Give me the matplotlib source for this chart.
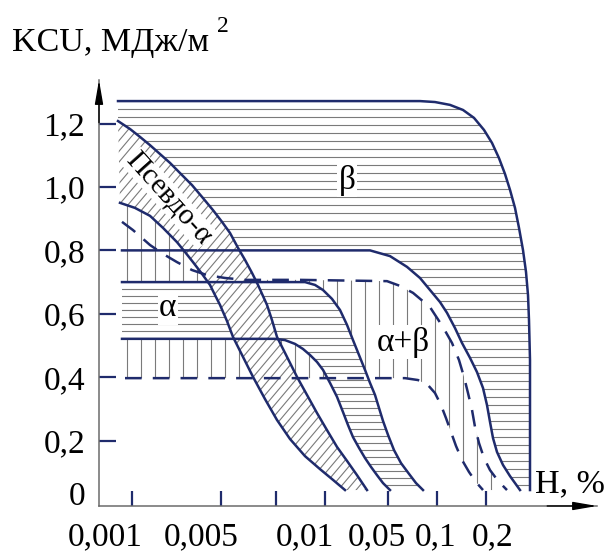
import matplotlib
matplotlib.use("Agg")
import matplotlib.pyplot as plt
import numpy as np
from matplotlib.collections import LineCollection
from matplotlib.patches import Polygon

NAVY = "#1f2b6c"
HATCH_GREY = "#7a7a7a"
AXIS_GREY = "#6b6b6b"
FONT = "Liberation Serif"

# H axis is schematic: x is a position along the axis, not the % value
X_TICKS = [0.33, 1.22, 1.77, 2.26, 2.89, 3.38, 3.87]
X_LABELS = ["0,001", "0,005", "0,01", "0,05", "0,1", "0,2"]
X_LABEL_POS = [0.06, 1.02, 2.06, 2.78, 3.37, 3.94]
Y_TICKS = [0.2, 0.4, 0.6, 0.8, 1.0, 1.2]
Y_LABELS = ["0,2", "0,4", "0,6", "0,8", "1,0", "1,2"]
Y_ZERO = 0.035
END = 0.044  # KCU level where all curves stop

# beta boundary (outer solid curve)
beta_x = [0.19, 3.21, 3.36, 3.51, 3.64, 3.75, 3.85, 3.93, 4.00, 4.06, 4.11, 4.16, 4.20, 4.24, 4.27,
          4.29, 4.30, 4.31, 4.31]
beta_y = [1.271, 1.271, 1.268, 1.259, 1.243, 1.218, 1.180, 1.139, 1.091, 1.041, 0.991, 0.934, 0.871,
          0.801, 0.732, 0.659, 0.580, 0.454, END]

# solid curve starting at 0.8
c08_x = [0.23, 2.71, 2.91, 3.08, 3.21, 3.31, 3.41, 3.48, 3.56, 3.63, 3.71, 3.78, 3.84, 3.88, 3.91,
         3.94, 3.98, 4.04, 4.11, 4.21]
c08_y = [0.80, 0.80, 0.782, 0.748, 0.713, 0.675, 0.637, 0.603, 0.555, 0.508, 0.461, 0.416, 0.366,
         0.312, 0.259, 0.208, 0.164, 0.123, 0.088, END]

# upper dashed curve (alpha+beta)
d1_x = [0.23, 0.34, 0.51, 0.64, 0.78, 0.93, 1.08, 1.26, 1.46, 2.01, 2.88, 3.01, 3.14, 3.31, 3.44,
        3.53, 3.60, 3.65, 3.69, 3.73, 3.76, 3.80, 3.85, 3.91, 3.99, 4.08]
d1_y = [0.890, 0.864, 0.817, 0.789, 0.763, 0.738, 0.722, 0.713, 0.707, 0.707, 0.703, 0.688, 0.666,
        0.621, 0.558, 0.508, 0.454, 0.401, 0.350, 0.297, 0.243, 0.192, 0.145, 0.107, 0.073, END]

# lower dashed curve (0.4)
d2_x = [0.26, 3.06, 3.19, 3.29, 3.36, 3.42, 3.47, 3.52, 3.57, 3.63, 3.70, 3.77, 3.84]
d2_y = [0.397, 0.397, 0.391, 0.375, 0.350, 0.312, 0.271, 0.227, 0.183, 0.139, 0.101, 0.069, END]

# pseudo-alpha band, upper and lower edges
p1_x = [0.19, 0.31, 0.41, 0.51, 0.61, 0.71, 0.81, 0.93, 1.04, 1.14, 1.23, 1.31, 1.39, 1.46, 1.53,
        1.59, 1.64, 1.68, 1.73, 1.78, 1.88, 1.98, 2.08, 2.18, 2.28, 2.38, 2.48, 2.58, 2.68]
p1_y = [1.208, 1.183, 1.158, 1.132, 1.104, 1.076, 1.044, 1.006, 0.965, 0.927, 0.890, 0.855, 0.808,
        0.770, 0.729, 0.691, 0.656, 0.628, 0.580, 0.527, 0.464, 0.401, 0.344, 0.287, 0.233, 0.180,
        0.136, 0.091, END]
p2_x = [0.21, 0.36, 0.51, 0.64, 0.78, 0.86, 0.94, 1.03, 1.11, 1.16, 1.21, 1.28, 1.34, 1.44, 1.54,
        1.66, 1.78, 1.91, 2.06, 2.21, 2.34, 2.46]
p2_y = [0.950, 0.934, 0.909, 0.871, 0.826, 0.795, 0.763, 0.726, 0.691, 0.659, 0.628, 0.577, 0.527,
        0.464, 0.401, 0.331, 0.265, 0.205, 0.151, 0.110, 0.076, END]

# alpha region, upper (0.7) and lower (0.52) edges
au_x = [0.23, 2.06, 2.16, 2.24, 2.33, 2.41, 2.48, 2.54, 2.60, 2.66, 2.71, 2.76, 2.80, 2.84, 2.89,
        2.95, 3.02, 3.10, 3.17, 3.24]
au_y = [0.700, 0.700, 0.691, 0.675, 0.647, 0.612, 0.565, 0.517, 0.470, 0.423, 0.382, 0.344, 0.303,
        0.262, 0.218, 0.170, 0.129, 0.095, 0.066, END]
al_x = [0.23, 1.76, 1.86, 1.96, 2.04, 2.11, 2.18, 2.24, 2.31, 2.38, 2.44, 2.49, 2.54, 2.60, 2.66,
        2.72, 2.78, 2.84, 2.91]
al_y = [0.521, 0.521, 0.517, 0.505, 0.489, 0.470, 0.448, 0.423, 0.382, 0.338, 0.290, 0.249, 0.211,
        0.177, 0.145, 0.117, 0.091, 0.066, END]

P2_D1_CROSS = 1.05


def pts(xs, ys):
    return list(zip(xs, ys))


def add_white(ax, verts, z):
    ax.add_patch(Polygon(verts, closed=True, facecolor="white", edgecolor="none", zorder=z))


def add_hatch(ax, segments, verts, z):
    clip = Polygon(verts, closed=True, facecolor="none", edgecolor="none")
    ax.add_patch(clip)
    lc = LineCollection(segments, colors=HATCH_GREY, linewidths=0.8, zorder=z)
    ax.add_collection(lc)
    lc.set_clip_path(clip)


def horizontal(top, step):
    return [[(0, y), (5, y)] for y in np.arange(top, 0.0, -step)]


def main():
    plt.rcParams["font.family"] = [FONT, "DejaVu Serif"]
    plt.rcParams["lines.scale_dashes"] = False

    fig = plt.figure(figsize=(6.13, 5.51), dpi=100)
    ax = fig.add_axes([0.1615, 0.0817, 0.8124, 0.7731])
    ax.set_xlim(0, 4.98)
    ax.set_ylim(-0.0063, 1.3375)

    beta = pts(beta_x, beta_y)
    c08 = pts(c08_x, c08_y)
    d1 = pts(d1_x, d1_y)
    d2 = pts(d2_x, d2_y)
    p1 = pts(p1_x, p1_y)
    p2 = pts(p2_x, p2_y)
    au = pts(au_x, au_y)
    al = pts(al_x, al_y)

    # beta: horizontal hatch under the outer curve, then blank out what lies below
    add_hatch(ax, horizontal(1.271 - 0.0252, 0.0252), beta + [(0.19, END)], 1)
    add_white(ax, c08 + [(0.19, END), (0.19, 0.80)], 2)
    add_white(ax, p1 + [(0.19, END)], 2)

    # alpha+beta: vertical hatch between the dashed curves
    upper = [p for p in p2 if p[0] <= P2_D1_CROSS] + [p for p in d1 if p[0] > P2_D1_CROSS]
    ab_poly = [(0.19, 0.95)] + upper + d2[::-1] + [(0.19, 0.397)]
    vert = [[(x, 0), (x, 1.3)] for x in np.arange(0.28, 4.3, 0.14)]
    add_hatch(ax, vert, ab_poly, 3)

    # alpha: horizontal hatch
    alpha_poly = au + al[::-1]
    add_white(ax, alpha_poly, 4)
    add_hatch(ax, horizontal(0.70 - 0.0221, 0.0221), alpha_poly, 5)

    # pseudo-alpha: diagonal hatch
    band_poly = p1 + p2[::-1]
    add_white(ax, band_poly, 6)
    diag = [[(c, -0.2), (c + 4.0, -0.2 + 1.5)] for c in np.arange(-4.2, 3.0, 0.09)]
    add_hatch(ax, diag, band_poly, 7)

    for xs, ys in [(beta_x, beta_y), (c08_x, c08_y), (p1_x, p1_y), (p2_x, p2_y),
                   (au_x, au_y), (al_x, al_y)]:
        ax.plot(xs, ys, color=NAVY, lw=1.8, zorder=10, solid_joinstyle="round")
    for xs, ys in [(d1_x, d1_y), (d2_x, d2_y)]:
        ax.plot(xs, ys, color=NAVY, lw=1.8, zorder=10, dashes=(12, 8))

    # axes
    for side in ("top", "right"):
        ax.spines[side].set_visible(False)
    for side in ("left", "bottom"):
        ax.spines[side].set_color(AXIS_GREY)
        ax.spines[side].set_linewidth(1.1)
    ax.set_xticks(X_TICKS)
    ax.set_xticklabels([])
    ax.tick_params(axis="x", direction="in", length=10.8, width=1.6, color=NAVY)
    ax.set_yticks([Y_ZERO] + Y_TICKS)
    ax.set_yticklabels(["0"] + Y_LABELS)
    ax.tick_params(axis="y", direction="in", length=12.2, width=1.6, color=NAVY, pad=10,
                   labelsize=24)
    ax.yaxis.get_major_ticks()[0].tick1line.set_visible(False)
    for lx, lab in zip(X_LABEL_POS, X_LABELS):
        ax.text(lx, -0.104, lab, ha="center", va="center", fontsize=24, clip_on=False)

    arrow = dict(arrowstyle="-|>,head_length=1.45,head_width=0.25", color="black", lw=1.0,
                 shrinkA=0, shrinkB=0)
    ax.annotate("", xy=(0, 1), xytext=(0, 0.9), xycoords="axes fraction", arrowprops=arrow,
                annotation_clip=False)
    ax.annotate("", xy=(1, 0), xytext=(0.9, 0), xycoords="axes fraction", arrowprops=arrow,
                annotation_clip=False)

    fig.text(12 / 613, 1 - 43 / 551, "KCU, МДж/м", fontsize=24.5, ha="left", va="center")
    fig.text(217 / 613, 1 - 27 / 551, "2", fontsize=17, ha="left", va="center")
    ax.text(4.36, 0.063, "H, %", fontsize=24.5, ha="left", va="center", clip_on=False)

    box = dict(facecolor="white", edgecolor="none", pad=1.0)
    ax.text(2.48, 1.022, "β", fontsize=24, ha="center", va="center", bbox=box, zorder=12)
    ax.text(0.69, 0.618, "α", fontsize=24, ha="center", va="center", bbox=box, zorder=12)
    ax.text(3.04, 0.511, "α+β", fontsize=24, ha="center", va="center", bbox=box, zorder=12)
    ax.text(0.70, 0.965, "Псевдо-α", fontsize=21, ha="center", va="center", rotation=-48,
            rotation_mode="anchor", zorder=12,
            bbox=dict(facecolor="white", edgecolor="none", pad=0.2))

    fig.savefig("out.png", dpi=100)


if __name__ == "__main__":
    main()
